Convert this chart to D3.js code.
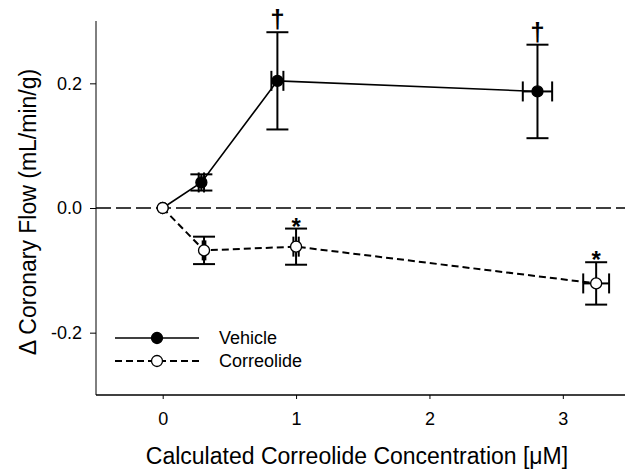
<!DOCTYPE html>
<html>
<head>
    <meta charset="utf-8">
    <title>Coronary Flow vs Correolide</title>
    <script src="https://d3js.org/d3.v7.min.js"></script>
    <style>
        body { margin: 0; background: #fff; }
        text { font-family: "Liberation Sans", Arial, sans-serif; }
        .axis path, .axis line { stroke: #000; }
        .axis text { font-size: 18px; fill: #000; font-family: "Liberation Sans", Arial, sans-serif; }
    </style>
</head>
<body>
    <svg width="625" height="471"></svg>
    <script>
        // vehicle series
        var vehicleConc = [0, 0.29, 0.86, 2.81];
        var vehicleConcErr = [0, 0.02, 0.045, 0.11];
        var vehicleFlow = [0, 0.041, 0.204, 0.187];
        var vehicleFlowErr = [0, 0.013, 0.078, 0.075];
        var vehicleMarks = ["", "", "\u2020", "\u2020"];

        // correolide series
        var corrConc = [0, 0.31, 1.0, 3.25];
        var corrConcErr = [0, 0.01, 0.02, 0.097];
        var corrFlow = [0, -0.068, -0.062, -0.121];
        var corrFlowErr = [0, 0.022, 0.029, 0.034];
        var corrMarks = ["", "", "*", "*"];

        var xTicks = [0, 1, 2, 3];
        var yTicks = [-0.2, 0.0, 0.2];

        var svg = d3.select("svg");

        var x = d3.scaleLinear().domain([-0.5, 3.5]).range([96, 629.5]);
        var y = d3.scaleLinear().domain([-0.3, 0.3]).range([395, 21]);

        // axes
        svg.append("g")
            .attr("class", "axis")
            .attr("transform", "translate(96,0)")
            .call(d3.axisLeft(y).tickValues(yTicks).tickSize(6).tickPadding(8)
                .tickFormat(function(d) { return d.toFixed(1); }))
            .call(function(g) { g.select(".domain").attr("d", "M0," + y(-0.3) + "V" + y(0.3)); });

        svg.append("g")
            .attr("class", "axis")
            .attr("transform", "translate(0,395)")
            .call(d3.axisBottom(x).tickValues(xTicks).tickSize(4).tickPadding(13).tickFormat(d3.format("d")))
            .call(function(g) {
                g.select(".domain").attr("d", "M96,0H625").attr("stroke-width", 1.5);
                g.selectAll(".tick line").attr("stroke", "#888");
            });

        // axis titles
        svg.append("text")
            .attr("x", 357).attr("y", 464)
            .attr("text-anchor", "middle")
            .style("font-size", "23px")
            .text("Calculated Correolide Concentration [\u03bcM]");

        svg.append("text")
            .attr("transform", "translate(36,212) rotate(-90)")
            .attr("text-anchor", "middle")
            .style("font-size", "23px")
            .text("\u0394 Coronary Flow (mL/min/g)");

        // zero reference line
        svg.append("line")
            .attr("x1", 96).attr("x2", 625)
            .attr("y1", y(0)).attr("y2", y(0))
            .attr("stroke", "#000").attr("stroke-width", 1.3)
            .attr("stroke-dasharray", "15,5");

        function series(conc, concErr, flow, flowErr, marks, dashed, fill) {
            var pts = conc.map(function(c, i) {
                return { x: c, xe: concErr[i], y: flow[i], ye: flowErr[i], m: marks[i] };
            });
            var g = svg.append("g");

            g.append("path")
                .datum(pts)
                .attr("fill", "none")
                .attr("stroke", "#000")
                .attr("stroke-width", dashed ? 2 : 1.6)
                .attr("stroke-dasharray", dashed ? "7,4" : null)
                .attr("d", d3.line().x(function(d) { return x(d.x); }).y(function(d) { return y(d.y); }));

            var eb = g.selectAll(".err").data(pts.filter(function(d) { return d.ye > 0; }))
                .enter().append("g").attr("stroke", "#000").attr("stroke-width", 2);
            // vertical error bar
            eb.append("line")
                .attr("x1", function(d) { return x(d.x); }).attr("x2", function(d) { return x(d.x); })
                .attr("y1", function(d) { return y(d.y - d.ye); }).attr("y2", function(d) { return y(d.y + d.ye); });
            eb.append("line")
                .attr("x1", function(d) { return x(d.x) - 11; }).attr("x2", function(d) { return x(d.x) + 11; })
                .attr("y1", function(d) { return y(d.y + d.ye); }).attr("y2", function(d) { return y(d.y + d.ye); });
            eb.append("line")
                .attr("x1", function(d) { return x(d.x) - 11; }).attr("x2", function(d) { return x(d.x) + 11; })
                .attr("y1", function(d) { return y(d.y - d.ye); }).attr("y2", function(d) { return y(d.y - d.ye); });
            // horizontal error bar
            eb.append("line")
                .attr("x1", function(d) { return x(d.x - d.xe); }).attr("x2", function(d) { return x(d.x + d.xe); })
                .attr("y1", function(d) { return y(d.y); }).attr("y2", function(d) { return y(d.y); });
            eb.append("line")
                .attr("x1", function(d) { return x(d.x - d.xe); }).attr("x2", function(d) { return x(d.x - d.xe); })
                .attr("y1", function(d) { return y(d.y) - 10; }).attr("y2", function(d) { return y(d.y) + 10; });
            eb.append("line")
                .attr("x1", function(d) { return x(d.x + d.xe); }).attr("x2", function(d) { return x(d.x + d.xe); })
                .attr("y1", function(d) { return y(d.y) - 10; }).attr("y2", function(d) { return y(d.y) + 10; });

            g.selectAll("circle").data(pts).enter().append("circle")
                .attr("cx", function(d) { return x(d.x); })
                .attr("cy", function(d) { return y(d.y); })
                .attr("r", 5.5)
                .attr("fill", fill).attr("stroke", "#000").attr("stroke-width", 1.3);

            g.selectAll(".mark").data(pts.filter(function(d) { return d.m; }))
                .enter().append("text")
                .attr("x", function(d) { return x(d.x); })
                .attr("y", function(d) { return y(d.y + d.ye) + (d.m === "*" ? 6 : -4); })
                .attr("text-anchor", "middle")
                .style("font-size", function(d) { return d.m === "*" ? "24px" : "26px"; })
                .style("font-weight", "bold")
                .text(function(d) { return d.m; });
        }

        series(vehicleConc, vehicleConcErr, vehicleFlow, vehicleFlowErr, vehicleMarks, false, "#000");
        series(corrConc, corrConcErr, corrFlow, corrFlowErr, corrMarks, true, "#fff");

        // legend
        var legend = [
            { name: "Vehicle", dashed: false, fill: "#000", y: 338 },
            { name: "Correolide", dashed: true, fill: "#fff", y: 361 }
        ];
        var lg = svg.selectAll(".legend").data(legend).enter().append("g");
        lg.append("line")
            .attr("x1", 115).attr("x2", 199)
            .attr("y1", function(d) { return d.y; }).attr("y2", function(d) { return d.y; })
            .attr("stroke", "#000").attr("stroke-width", function(d) { return d.dashed ? 2 : 1.6; })
            .attr("stroke-dasharray", function(d) { return d.dashed ? "7,4" : null; });
        lg.append("circle")
            .attr("cx", 157).attr("cy", function(d) { return d.y; }).attr("r", 5.5)
            .attr("fill", function(d) { return d.fill; }).attr("stroke", "#000").attr("stroke-width", 1.3);
        lg.append("text")
            .attr("x", 219).attr("y", function(d) { return d.y + 6; })
            .style("font-size", "18px")
            .text(function(d) { return d.name; });
    </script>
</body>
</html>
